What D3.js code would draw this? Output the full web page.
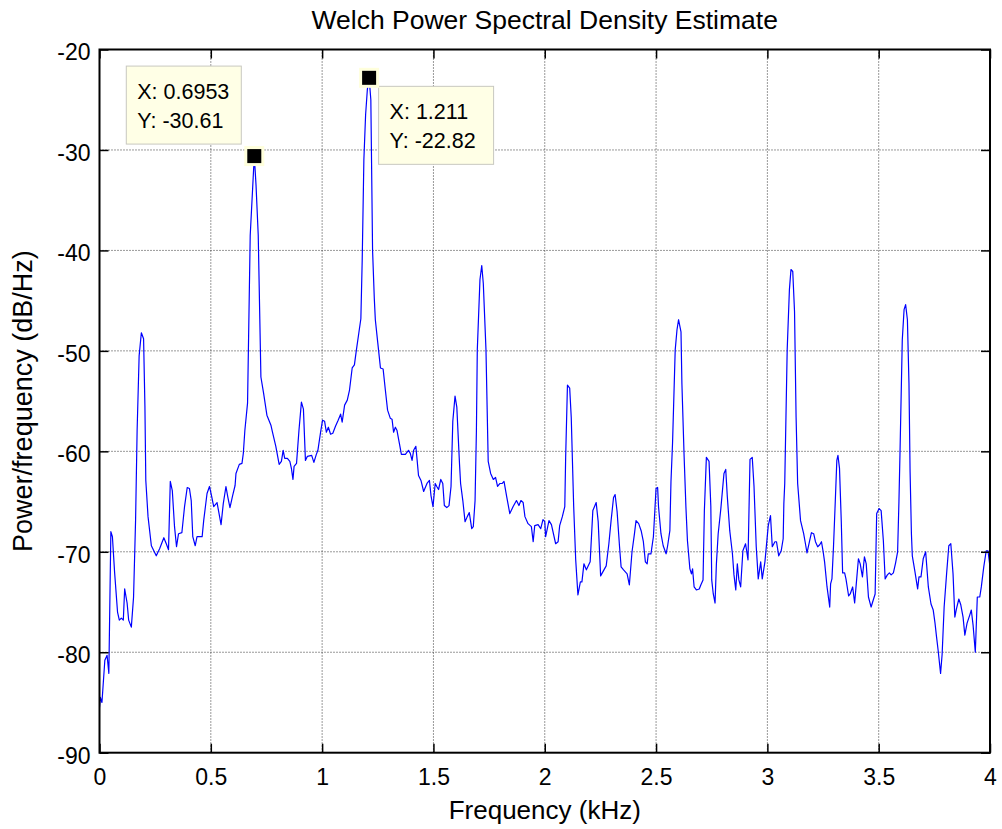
<!DOCTYPE html>
<html>
<head>
<meta charset="utf-8">
<script src="https://cdn.jsdelivr.net/npm/d3@7"></script>
<style>
  body { margin: 0; background: #fff; }
  svg { display: block; font-family: "Liberation Sans", Arial, sans-serif; }
</style>
</head>
<body>
<svg id="chart" width="1002" height="829"></svg>
<script>
// =========================
// DADES
// =========================

const freqKHz = [
  0.000, 0.004, 0.011, 0.024, 0.034, 0.042, 0.051, 0.058, 0.068, 0.081, 0.089, 0.098, 0.107, 0.113, 0.124, 0.131,
  0.143, 0.153, 0.162, 0.169, 0.178, 0.188, 0.198, 0.204, 0.208, 0.218, 0.233, 0.255, 0.270, 0.289, 0.300, 0.310,
  0.318, 0.327, 0.337, 0.346, 0.355, 0.370, 0.382, 0.394, 0.404, 0.412, 0.419, 0.430, 0.438, 0.461, 0.468, 0.483,
  0.494, 0.504, 0.513, 0.528, 0.546, 0.556, 0.568, 0.576, 0.586, 0.598, 0.609, 0.613, 0.628, 0.640, 0.646, 0.653,
  0.665, 0.677, 0.6953, 0.7031, 0.713, 0.725, 0.737, 0.752, 0.770, 0.777, 0.792, 0.807, 0.817, 0.825, 0.832, 0.844,
  0.855, 0.862, 0.869, 0.874, 0.885, 0.896, 0.907, 0.916, 0.925, 0.934, 0.953, 0.963, 0.974, 0.981, 0.993, 1.002,
  1.011, 1.019, 1.028, 1.038, 1.048, 1.060, 1.072, 1.083, 1.090, 1.101, 1.113, 1.123, 1.135, 1.145, 1.154, 1.165,
  1.174, 1.180, 1.1875, 1.1953, 1.2031, 1.211, 1.2188, 1.2266, 1.2344, 1.239, 1.250, 1.262, 1.274, 1.284, 1.294, 1.306,
  1.314, 1.321, 1.329, 1.336, 1.347, 1.356, 1.374, 1.388, 1.396, 1.404, 1.411, 1.421, 1.426, 1.433, 1.444, 1.456,
  1.471, 1.482, 1.489, 1.498, 1.508, 1.515, 1.523, 1.533, 1.542, 1.549, 1.560, 1.570, 1.579, 1.587, 1.597, 1.605,
  1.617, 1.622, 1.632, 1.642, 1.652, 1.661, 1.672, 1.679, 1.687, 1.693, 1.697, 1.709, 1.717, 1.724, 1.736, 1.746,
  1.757, 1.769, 1.779, 1.788, 1.799, 1.809, 1.817, 1.829, 1.843, 1.858, 1.873, 1.884, 1.893, 1.903, 1.911, 1.925,
  1.940, 1.948, 1.955, 1.970, 1.982, 1.992, 2.000, 2.004, 2.019, 2.030, 2.049, 2.060, 2.067, 2.079, 2.090, 2.094,
  2.102, 2.112, 2.119, 2.130, 2.139, 2.149, 2.160, 2.167, 2.176, 2.187, 2.204, 2.216, 2.231, 2.240, 2.251, 2.261,
  2.276, 2.288, 2.298, 2.309, 2.316, 2.325, 2.336, 2.343, 2.354, 2.370, 2.380, 2.392, 2.403, 2.410, 2.422, 2.433,
  2.443, 2.452, 2.460, 2.465, 2.477, 2.488, 2.500, 2.507, 2.511, 2.522, 2.532, 2.545, 2.552, 2.562, 2.567, 2.574,
  2.586, 2.594, 2.601, 2.612, 2.616, 2.626, 2.634, 2.641, 2.652, 2.659, 2.664, 2.671, 2.681, 2.694, 2.701, 2.711,
  2.717, 2.726, 2.738, 2.746, 2.750, 2.757, 2.765, 2.771, 2.779, 2.791, 2.805, 2.813, 2.820, 2.831, 2.843, 2.850,
  2.858, 2.865, 2.872, 2.880, 2.890, 2.902, 2.913, 2.922, 2.932, 2.940, 2.950, 2.959, 2.970, 2.977, 2.989, 3.004,
  3.014, 3.022, 3.034, 3.041, 3.051, 3.062, 3.071, 3.074, 3.078, 3.089, 3.099, 3.106, 3.114, 3.122, 3.129, 3.136,
  3.149, 3.163, 3.171, 3.178, 3.189, 3.198, 3.208, 3.216, 3.226, 3.235, 3.243, 3.250, 3.257, 3.268, 3.280, 3.284,
  3.290, 3.297, 3.305, 3.312, 3.317, 3.324, 3.332, 3.338, 3.347, 3.353, 3.365, 3.372, 3.383, 3.392, 3.402, 3.409,
  3.417, 3.427, 3.436, 3.444, 3.454, 3.466, 3.477, 3.484, 3.491, 3.502, 3.511, 3.521, 3.529, 3.539, 3.548, 3.556,
  3.566, 3.576, 3.585, 3.591, 3.596, 3.606, 3.614, 3.621, 3.629, 3.636, 3.641, 3.647, 3.651, 3.663, 3.675, 3.681,
  3.690, 3.700, 3.711, 3.723, 3.735, 3.745, 3.753, 3.760, 3.767, 3.778, 3.785, 3.794, 3.805, 3.815, 3.824, 3.834,
  3.842, 3.849, 3.860, 3.869, 3.879, 3.887, 3.897, 3.909, 3.916, 3.924, 3.934, 3.943, 3.954, 3.961, 3.972, 3.983,
  3.991, 4.000
];

const psdDb = [
  -85.5, -84.5, -85.0, -80.8, -80.3, -82.1, -68.0, -68.5, -72.1, -76.0, -76.8, -76.6, -76.8, -73.7, -75.1, -76.8,
  -77.5, -74.5, -66.9, -57.9, -50.5, -48.2, -48.8, -55.5, -62.9, -66.5, -69.4, -70.4, -69.7, -68.6, -69.2, -69.8,
  -63.0, -63.9, -67.5, -69.5, -68.2, -68.1, -65.5, -63.6, -63.7, -64.9, -68.5, -69.4, -68.5, -68.5, -66.9, -64.2,
  -63.5, -64.5, -65.5, -65.1, -67.3, -65.2, -63.5, -64.5, -65.6, -64.4, -63.4, -62.2, -61.3, -61.2, -60.2, -57.9,
  -55.2, -38.5, -30.61, -33.5, -38.5, -52.6, -54.2, -56.4, -57.4, -58.1, -59.5, -61.3, -61.0, -59.9, -60.7, -60.7,
  -61.0, -61.7, -62.8, -61.5, -61.2, -57.9, -55.1, -55.8, -60.9, -60.5, -60.4, -61.1, -60.3, -59.9, -58.1, -56.9,
  -57.0, -58.1, -57.6, -58.3, -58.2, -57.5, -56.9, -56.3, -57.1, -55.4, -54.9, -53.9, -51.7, -51.4, -49.9, -48.2,
  -46.8, -41.0, -31.0, -26.5, -24.0, -22.82, -25.0, -40.0, -44.8, -46.9, -49.2, -51.7, -51.8, -53.9, -55.9, -56.7,
  -56.8, -58.1, -57.6, -57.9, -59.2, -60.3, -60.3, -59.9, -60.2, -60.9, -59.9, -59.5, -60.7, -62.4, -62.9, -64.0,
  -63.2, -62.9, -64.4, -65.5, -63.2, -63.5, -63.8, -62.8, -63.2, -65.4, -65.6, -65.4, -63.5, -57.0, -54.5, -55.6,
  -61.2, -63.2, -64.9, -67.0, -66.5, -66.1, -67.7, -67.5, -64.9, -58.0, -49.9, -42.9, -41.5, -43.3, -49.9, -61.0,
  -62.2, -62.8, -62.6, -63.5, -63.2, -63.2, -63.0, -64.5, -66.2, -65.5, -64.9, -65.4, -64.9, -65.1, -66.5, -67.2,
  -67.5, -69.0, -67.4, -67.3, -67.7, -66.8, -67.0, -68.5, -66.9, -67.3, -69.2, -69.0, -67.4, -66.5, -65.5, -60.5,
  -53.4, -53.7, -56.6, -65.5, -70.8, -74.3, -73.0, -73.0, -71.2, -71.8, -71.0, -65.9, -65.1, -67.0, -72.4, -72.0,
  -71.4, -69.2, -66.9, -64.6, -64.3, -66.0, -69.5, -71.5, -71.8, -72.2, -73.3, -70.0, -68.2, -66.9, -67.2, -67.9,
  -69.0, -71.0, -71.2, -70.2, -70.2, -68.5, -63.7, -63.6, -65.5, -68.2, -69.4, -70.2, -69.4, -67.9, -63.0, -59.2,
  -49.9, -47.9, -46.9, -48.1, -53.2, -60.5, -65.5, -68.9, -71.7, -72.2, -71.7, -73.5, -73.8, -73.7, -73.3, -72.8,
  -65.9, -60.6, -61.0, -65.5, -72.8, -74.2, -75.1, -71.2, -68.2, -65.7, -62.2, -61.8, -64.5, -67.9, -70.2, -72.3,
  -73.8, -71.2, -72.8, -73.5, -69.9, -69.2, -70.8, -60.8, -60.6, -63.5, -69.5, -72.7, -71.0, -72.7, -71.0, -67.4,
  -66.4, -69.5, -69.0, -69.0, -70.4, -69.9, -68.7, -65.2, -63.2, -49.9, -43.9, -41.9, -42.1, -46.1, -56.6, -63.2,
  -66.9, -68.2, -69.2, -70.1, -69.0, -68.1, -68.2, -69.0, -69.5, -69.3, -69.0, -69.9, -71.0, -73.5, -75.5, -73.2,
  -72.7, -69.5, -65.0, -60.9, -60.4, -61.7, -67.0, -72.1, -72.1, -72.7, -74.4, -74.2, -73.5, -75.1, -72.5, -70.7,
  -71.2, -72.5, -70.5, -71.2, -74.5, -75.5, -74.7, -74.2, -66.2, -65.7, -65.9, -68.9, -72.7, -72.3, -72.1, -72.3,
  -72.1, -71.1, -70.0, -65.0, -59.9, -48.9, -45.9, -45.4, -46.9, -53.2, -62.0, -68.2, -70.4, -72.0, -73.7, -72.5,
  -72.5, -70.7, -70.0, -73.5, -75.2, -75.8, -77.1, -78.5, -79.8, -82.1, -80.2, -75.5, -72.2, -69.4, -69.2, -72.2,
  -76.5, -75.7, -74.7, -75.3, -76.5, -78.3, -77.1, -76.3, -75.8, -77.3, -80.0, -74.5, -74.5, -73.5, -71.5, -69.9,
  -69.9, -71.5
];

const xTicks = [0, 0.5, 1, 1.5, 2, 2.5, 3, 3.5, 4];
const yTicks = [-90, -80, -70, -60, -50, -40, -30, -20];

// data tips
const tipX = [0.6953, 1.211];
const tipY = [-30.61, -22.82];
const tipLabelX = ["0.6953", "1.211"];
const tipLabelY = ["-30.61", "-22.82"];


// =========================
// ESCALES
// =========================

const svg = d3.select("#chart");

const plotLeft = 99.5, plotRight = 990, plotTop = 49.5, plotBottom = 752.7;

const x = d3.scaleLinear().domain([0, 4]).range([plotLeft, plotRight]);
const y = d3.scaleLinear().domain([-90, -20]).range([plotBottom, plotTop]);

const tickLen = 9;


// =========================
// GRAELLA
// =========================

function drawGrid() {
  const g = svg.append("g").attr("class", "grid");

  g.selectAll(".gx")
    .data(xTicks.slice(1, -1))
    .enter()
    .append("line")
    .attr("x1", d => x(d)).attr("x2", d => x(d))
    .attr("y1", plotTop).attr("y2", plotBottom)
    .attr("stroke", "#333")
    .attr("stroke-width", 1)
    .attr("stroke-dasharray", "1,2");

  g.selectAll(".gy")
    .data(yTicks.slice(1, -1))
    .enter()
    .append("line")
    .attr("x1", plotLeft).attr("x2", plotRight)
    .attr("y1", d => y(d)).attr("y2", d => y(d))
    .attr("stroke", "#333")
    .attr("stroke-width", 1)
    .attr("stroke-dasharray", "1,2");
}


// =========================
// EIXOS
// =========================

function drawAxes() {
  const fs = "23px";
  const plainNum = d => String(d);   // guió normal, com MATLAB

  // x: bottom ticks pointing up, top ticks pointing down
  const xb = svg.append("g")
    .attr("transform", `translate(0,${plotBottom})`)
    .call(d3.axisBottom(x).tickValues(xTicks).tickSizeInner(-tickLen).tickSizeOuter(0).tickPadding(16)
      .tickFormat(plainNum));

  const xt = svg.append("g")
    .attr("transform", `translate(0,${plotTop})`)
    .call(d3.axisTop(x).tickValues(xTicks).tickSizeInner(-tickLen).tickSizeOuter(0).tickFormat(""));

  const yl = svg.append("g")
    .attr("transform", `translate(${plotLeft},0)`)
    .call(d3.axisLeft(y).tickValues(yTicks).tickSizeInner(-tickLen).tickSizeOuter(0).tickPadding(9)
      .tickFormat(plainNum));

  const yr = svg.append("g")
    .attr("transform", `translate(${plotRight},0)`)
    .call(d3.axisRight(y).tickValues(yTicks).tickSizeInner(-tickLen).tickSizeOuter(0).tickFormat(""));

  [xb, xt, yl, yr].forEach(a => {
    a.select(".domain").remove();
    a.selectAll(".tick line").attr("stroke", "#000").attr("stroke-width", 1.5);
    a.selectAll(".tick text")
      .style("font-size", fs)
      .style("font-family", "'Liberation Sans', Arial, sans-serif")
      .attr("fill", "#000");
  });

  xb.selectAll(".tick text").attr("dy", "0.72em");
  yl.selectAll(".tick text").attr("dy", "0.45em");

  // caixa
  svg.append("rect")
    .attr("x", plotLeft)
    .attr("y", plotTop)
    .attr("width", plotRight - plotLeft)
    .attr("height", plotBottom - plotTop)
    .attr("fill", "none")
    .attr("stroke", "#000")
    .attr("stroke-width", 2);
}


// =========================
// LÍNIA
// =========================

function drawLine() {
  svg.append("clipPath")
    .attr("id", "plot-clip")
    .append("rect")
    .attr("x", plotLeft).attr("y", plotTop)
    .attr("width", plotRight - plotLeft).attr("height", plotBottom - plotTop);

  const line = d3.line()
    .x((d, i) => x(freqKHz[i]))
    .y(d => y(d));

  svg.append("path")
    .datum(psdDb)
    .attr("clip-path", "url(#plot-clip)")
    .attr("d", line)
    .attr("fill", "none")
    .attr("stroke", "#0000ff")
    .attr("stroke-width", 1.2)
    .attr("stroke-linejoin", "round");
}


// =========================
// TEXTOS
// =========================

function drawLabels() {
  svg.append("text")
    .attr("x", (plotLeft + plotRight) / 2)
    .attr("y", 29)
    .attr("text-anchor", "middle")
    .text("Welch Power Spectral Density Estimate")
    .style("font-size", "26.5px")
    .attr("fill", "#000");

  svg.append("text")
    .attr("x", (plotLeft + plotRight) / 2)
    .attr("y", 819)
    .attr("text-anchor", "middle")
    .text("Frequency (kHz)")
    .style("font-size", "26px")
    .attr("fill", "#000");

  svg.append("text")
    .attr("transform", `translate(32,${(plotTop + plotBottom) / 2}) rotate(-90)`)
    .attr("text-anchor", "middle")
    .text("Power/frequency (dB/Hz)")
    .style("font-size", "27px")
    .attr("fill", "#000");
}


// =========================
// DATA TIPS
// =========================

function drawDataTips() {
  // box offsets relative to the marker: [dx, dy] of top-left corner
  const boxW = 115, boxH = 78;
  const offsets = [[-128, -90], [9.5, 8.5]];

  tipX.forEach((fx, i) => {
    const cx = x(fx), cy = y(tipY[i]);
    const [dx, dy] = offsets[i];

    const g = svg.append("g").attr("class", "datatip");

    g.append("rect")
      .attr("x", cx + dx)
      .attr("y", cy + dy)
      .attr("width", boxW)
      .attr("height", boxH)
      .attr("fill", "#ffffe6")
      .attr("stroke", "#c8c8c0")
      .attr("stroke-width", 1);

    g.append("text")
      .attr("x", cx + dx + 11)
      .attr("y", cy + dy + 33)
      .text(`X: ${tipLabelX[i]}`)
      .style("font-size", "21.5px")
      .attr("fill", "#000");

    g.append("text")
      .attr("x", cx + dx + 11)
      .attr("y", cy + dy + 62)
      .text(`Y: ${tipLabelY[i]}`)
      .style("font-size", "21.5px")
      .attr("fill", "#000");

    g.append("rect")
      .attr("x", cx - 8.5)
      .attr("y", cy - 8.5)
      .attr("width", 17)
      .attr("height", 17)
      .attr("fill", "#000")
      .attr("stroke", "#ffffdc")
      .attr("stroke-width", 3);
  });
}


drawGrid();
drawLine();
drawAxes();
drawLabels();
drawDataTips();
</script>
</body>
</html>
